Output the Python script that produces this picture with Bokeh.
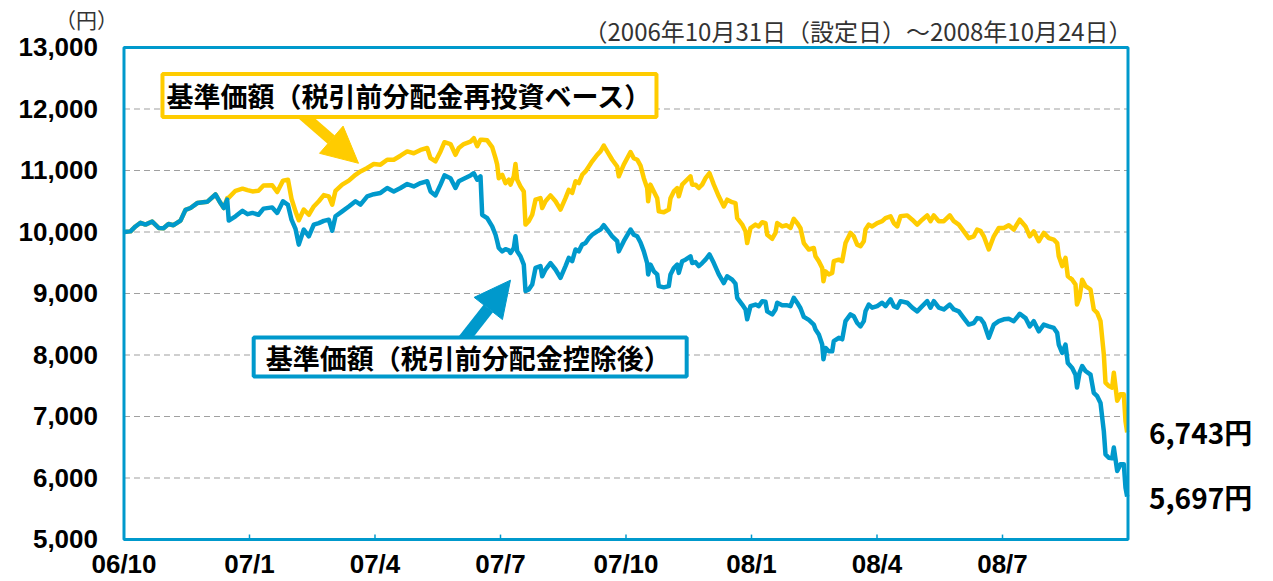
from bokeh.plotting import figure
from bokeh.models import ColumnDataSource, Range1d, Label, Arrow, NormalHead
from bokeh.core.properties import value
from bokeh.embed import file_html
from bokeh.resources import INLINE

# months elapsed since the launch date (2006/10/31)
months = [0.00, 0.155, 0.275, 0.394, 0.514, 0.674, 0.832, 0.944, 1.064, 1.183, 1.351, 1.470, 1.590,
          1.750, 1.989, 2.187, 2.307, 2.386, 2.467, 2.505, 2.665, 2.833, 2.952, 3.072, 3.215, 3.335,
          3.543, 3.662, 3.801, 3.920, 4.004, 4.100, 4.178, 4.298, 4.418, 4.537, 4.657, 4.776, 4.896,
          4.977, 5.056, 5.216, 5.374, 5.534, 5.653, 5.814, 5.971, 6.131, 6.292, 6.449, 6.610, 6.770,
          6.927, 7.088, 7.248, 7.327, 7.446, 7.566, 7.661, 7.805, 7.924, 8.003, 8.123, 8.283, 8.362,
          8.443, 8.522, 8.562, 8.682, 8.801, 8.881, 8.921, 8.959, 9.041, 9.120, 9.198, 9.239, 9.318,
          9.358, 9.399, 9.478, 9.557, 9.598, 9.676, 9.758, 9.837, 9.956, 9.997, 10.076, 10.195,
          10.315, 10.434, 10.554, 10.633, 10.714, 10.793, 10.871, 10.953, 11.032, 11.111, 11.192,
          11.311, 11.390, 11.469, 11.550, 11.670, 11.789, 11.828, 11.947, 12.108, 12.186, 12.268,
          12.347, 12.426, 12.506, 12.530, 12.585, 12.665, 12.746, 12.784, 12.904, 13.023, 13.064,
          13.143, 13.224, 13.262, 13.343, 13.422, 13.542, 13.582, 13.661, 13.740, 13.821, 13.900,
          13.996, 14.099, 14.218, 14.338, 14.419, 14.538, 14.617, 14.658, 14.778, 14.857, 14.897,
          14.976, 15.095, 15.174, 15.256, 15.335, 15.375, 15.495, 15.574, 15.614, 15.734, 15.837,
          15.932, 16.011, 16.092, 16.171, 16.250, 16.370, 16.489, 16.530, 16.609, 16.690, 16.720,
          16.769, 16.848, 16.929, 16.967, 17.087, 17.168, 17.247, 17.366, 17.445, 17.527, 17.606,
          17.685, 17.725, 17.804, 17.885, 18.005, 18.124, 18.203, 18.323, 18.402, 18.483, 18.562,
          18.722, 18.842, 18.961, 19.081, 19.200, 19.279, 19.358, 19.477, 19.597, 19.740, 19.836,
          19.955, 20.075, 20.194, 20.314, 20.395, 20.474, 20.553, 20.672, 20.792, 20.911, 21.031,
          21.150, 21.270, 21.413, 21.550, 21.652, 21.748, 21.867, 21.987, 22.107, 22.226, 22.307,
          22.345, 22.427, 22.506, 22.561, 22.666, 22.745, 22.781, 22.841, 22.905, 22.984, 23.104,
          23.182, 23.264, 23.343, 23.422, 23.462, 23.541, 23.622, 23.661, 23.742, 23.821, 23.900,
          23.940, 23.980]

# 基準価額（税引前分配金再投資ベース）
reinvest = [10000, 10010, 10090, 10150, 10120, 10170, 10065, 10060, 10130, 10110, 10185, 10360, 10390,
            10470, 10490, 10610, 10470, 10390, 10550, 10560, 10670, 10705, 10680, 10660, 10670, 10755,
            10760, 10650, 10835, 10850, 10540, 10335, 10190, 10365, 10280, 10415, 10500, 10600, 10580,
            10445, 10670, 10770, 10835, 10930, 10985, 11040, 11105, 11095, 11175, 11175, 11240, 11310,
            11280, 11335, 11365, 11200, 11150, 11310, 11460, 11430, 11255, 11365, 11430, 11470, 11525,
            11395, 11500, 11500, 11490, 11380, 11200, 11095, 10875, 10930, 10795, 10850, 10770, 10905,
            11105, 10850, 10740, 10660, 10120, 10175, 10280, 10525, 10550, 10390, 10500, 10595,
            10500, 10365, 10550, 10685, 10635, 10825, 10795, 10930, 10985, 11065, 11150,
            11255, 11310, 11405, 11310, 11175, 11065, 10905, 11095, 11300, 11200, 11175,
            11080, 10875, 10715, 10500, 10770, 10660, 10550, 10335, 10320, 10365, 10550,
            10660, 10715, 10580, 10770, 10825, 10905, 10770, 10770, 10715, 10770, 10875,
            10955, 10770, 10580, 10415, 10525, 10485, 10470, 10225, 10120, 10010, 9820,
            10065, 10120, 10090, 10160, 10145, 9955, 9890, 9985, 10145, 10090, 10110,
            10065, 10215, 10145, 10060, 9820, 9715, 9740, 9605, 9525, 9415, 9200,
            9360, 9310, 9335, 9525, 9550, 9525, 9820, 9985, 9930, 9795, 9770,
            9850, 10040, 10120, 10090, 10145, 10175, 10225, 10255, 10145, 10090, 10255,
            10270, 10200, 10120, 10200, 10270, 10175, 10270, 10175, 10175, 10270, 10175,
            10120, 10010, 9900, 9930, 10040, 10020, 9930, 9715, 9930, 10065, 10065,
            10110, 10040, 10200, 10090, 9930, 10010, 9850, 9985, 9900, 9875, 9820,
            9605, 9445, 9580, 9280, 9225, 9145, 8820, 8930, 9225, 9120, 9065,
            8740, 8685, 8550, 8010, 7550, 7495, 7470, 7710, 7255, 7360, 7360,
            6925, 6743]

# 基準価額（税引前分配金控除後）
after_dist = [10000, 10010, 10090, 10150, 10120, 10170, 10065, 10060, 10130, 10110, 10185, 10360, 10390,
              10470, 10490, 10610, 10470, 10390, 10525, 10185, 10255, 10345, 10290, 10310, 10280, 10380,
              10400, 10310, 10500, 10440, 10200, 10050, 9795, 10040, 9930, 10120, 10145, 10180, 10200,
              10020, 10255, 10335, 10415, 10500, 10445, 10580, 10615, 10635, 10715, 10660, 10715, 10780,
              10740, 10795, 10825, 10660, 10595, 10770, 10920, 10875, 10715, 10825, 10865, 10920, 10955,
              10850, 10905, 10280, 10225, 10090, 9955, 9850, 9740, 9685, 9720, 9700, 9660, 9740,
              9930, 9685, 9605, 9470, 9040, 9065, 9145, 9415, 9445, 9280, 9390, 9495,
              9390, 9255, 9445, 9580, 9525, 9715, 9685, 9795, 9820, 9900, 9955,
              10010, 10040, 10110, 10040, 9930, 9850, 9685, 9850, 10040, 9955, 9930,
              9830, 9685, 9495, 9310, 9470, 9360, 9310, 9120, 9100, 9120, 9310,
              9415, 9470, 9335, 9525, 9550, 9605, 9495, 9510, 9445, 9495, 9550,
              9635, 9495, 9310, 9170, 9280, 9225, 9160, 8930, 8820, 8740, 8580,
              8795, 8820, 8795, 8875, 8865, 8710, 8660, 8740, 8850, 8810, 8810,
              8795, 8930, 8850, 8760, 8620, 8570, 8495, 8415, 8335, 8170, 7930,
              8115, 8060, 8060, 8225, 8280, 8255, 8550, 8660, 8630, 8520, 8465,
              8550, 8710, 8820, 8770, 8795, 8850, 8795, 8905, 8795, 8770, 8875,
              8850, 8770, 8710, 8795, 8875, 8770, 8875, 8770, 8740, 8820, 8740,
              8710, 8600, 8495, 8520, 8600, 8590, 8520, 8280, 8495, 8550, 8580,
              8590, 8550, 8670, 8600, 8465, 8550, 8385, 8495, 8465, 8440, 8360,
              8170, 8035, 8170, 7870, 7790, 7680, 7470, 7710, 7820, 7740, 7680,
              7385, 7330, 7220, 6760, 6385, 6330, 6320, 6495, 6115, 6225, 6225,
              5845, 5697]

x_tick_values = [0, 3, 6, 9, 12, 15, 18, 21]
x_tick_labels = ["06/10", "07/1", "07/4", "07/7", "07/10", "08/1", "08/4", "08/7"]
y_tick_values = [5000, 6000, 7000, 8000, 9000, 10000, 11000, 12000, 13000]
x_end = 24  # 2008/10/24 sits on the right edge of the plot box

name_reinvest = "基準価額（税引前分配金再投資ベース）"
name_after = "基準価額（税引前分配金控除後）"
period_text = "（2006年10月31日（設定日）～2008年10月24日）"
unit_text = "（円）"

YELLOW = "#FFCC00"
BLUE = "#0099CC"
GRID = "#A0A0A0"
JP = "Noto Sans CJK JP"
NUM = "Liberation Sans"

# view extents (the plot box 0..24 x 5000..13000 sits inside a full-canvas frame)
VIEW_X = (-2.952, 27.478)
VIEW_Y = (4317, 13764)
TICK_LEN = 80  # tick mark length in value units (~5px)

p = figure(width=1273, height=581, output_backend="svg", toolbar_location=None,
           x_axis_location=None, y_axis_location=None,
           x_range=Range1d(*VIEW_X), y_range=Range1d(*VIEW_Y),
           min_border=0, min_border_left=0, min_border_right=0,
           min_border_top=0, min_border_bottom=0)
p.background_fill_color = "white"
p.border_fill_color = "white"
p.outline_line_color = None
p.xgrid.visible = False
p.ygrid.visible = False
p.grid.visible = False

y_min, y_max = y_tick_values[0], y_tick_values[-1]
x_min = x_tick_values[0]

# dashed horizontal grid lines inside the box
inner = y_tick_values[1:-1]
p.segment(x0=[x_min] * len(inner), y0=inner, x1=[x_end] * len(inner), y1=inner,
          line_color=GRID, line_width=1.2, line_dash="6 4")

# series
source = ColumnDataSource(dict(m=months, r=reinvest, a=after_dist))
p.line("m", "r", source=source, line_color=YELLOW, line_width=4.5, line_join="round")
p.line("m", "a", source=source, line_color=BLUE, line_width=4.5, line_join="round")

# plot box
p.quad(left=[x_min], right=[x_end], bottom=[y_min], top=[y_max],
       fill_color=None, line_color=BLUE, line_width=3)

# x ticks (pointing inward) and labels
p.segment(x0=x_tick_values, y0=[y_min] * len(x_tick_values), x1=x_tick_values,
          y1=[y_min + TICK_LEN] * len(x_tick_values), line_color=BLUE, line_width=1.5)
p.text(x=x_tick_values, y=[y_min] * len(x_tick_values), text=x_tick_labels,
       text_font=value(NUM), text_font_size="26px", text_font_style="bold",
       text_color="black", text_align="center", text_baseline="middle", y_offset=25)

# y tick labels
p.text(x=[x_min] * len(y_tick_values), y=y_tick_values, text=[f"{v:,}" for v in y_tick_values],
       text_font=value(NUM), text_font_size="26px", text_font_style="bold",
       text_color="black", text_align="right", text_baseline="middle", x_offset=-26)

# end values
end_values = [reinvest[-1], after_dist[-1]]
p.text(x=[x_end] * 2, y=end_values, text=[f"{v:,}円" for v in end_values],
       text_font=value(JP), text_font_size="28px", text_font_style="bold",
       text_color="black", text_align="left", text_baseline="middle", x_offset=21)

# arrows pointing at the two lines
ARROW_Y = dict(x_start=4.147, y_start=11977, x_end=5.606, y_end=11117)
ARROW_B = dict(x_start=8.116, y_start=8243, x_end=9.239, y_end=9217)
p.add_layout(Arrow(end=NormalHead(size=36, fill_color=YELLOW, line_color=YELLOW, line_width=1),
                   line_color=YELLOW, line_width=11, **ARROW_Y))
p.add_layout(Arrow(end=NormalHead(size=36, fill_color=BLUE, line_color=BLUE, line_width=1),
                   line_color=BLUE, line_width=12, **ARROW_B))

# legend boxes
p.add_layout(Label(x=0.92, y=12221, text=name_reinvest, text_font=JP, text_font_size="27px",
                   text_font_style="bold", text_color="black", text_baseline="middle",
                   text_align="left", border_line_color=YELLOW, border_line_width=4,
                   background_fill_color="white",
                   padding=dict(left=4, right=4, top=2, bottom=2)))
p.add_layout(Label(x=3.10, y=7967, text=name_after, text_font=JP, text_font_size="27px",
                   text_font_style="bold", text_color="black", text_baseline="middle",
                   text_align="left", border_line_color=BLUE, border_line_width=4,
                   background_fill_color="white",
                   padding=dict(left=12, right=16, top=0, bottom=0)))

# period and unit
p.add_layout(Label(x=24.11, y=13276, text=period_text, text_font=JP, text_font_size="24px",
                   text_color="#333333", text_baseline="middle", text_align="right"))
p.add_layout(Label(x=-0.896, y=13471, text=unit_text, text_font=JP, text_font_size="21px",
                   text_color="#333333", text_baseline="middle", text_align="center"))

open("out.html", "w").write(file_html(p, INLINE))
